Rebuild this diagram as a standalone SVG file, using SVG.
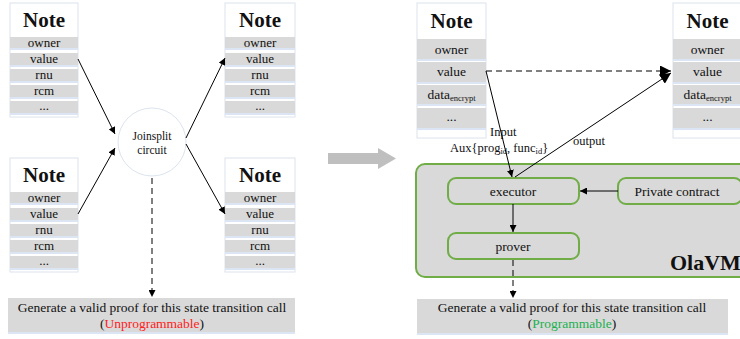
<svg xmlns="http://www.w3.org/2000/svg" width="740" height="339" viewBox="0 0 740 339">
<defs>
<marker id="ah" viewBox="0 0 10 10" refX="10" refY="5" markerWidth="7" markerHeight="7" orient="auto-start-reverse" markerUnits="userSpaceOnUse"><path d="M0,0 L10,5 L0,10 z" fill="#000"/></marker>
<marker id="ah2" viewBox="0 0 10 10" refX="10" refY="5" markerWidth="11" markerHeight="11" orient="auto" markerUnits="userSpaceOnUse"><path d="M0,0 L10,5 L0,10 z" fill="#000"/></marker>
</defs>
<style>
text{font-family:"Liberation Serif","Times New Roman",serif;fill:#111}
.box{fill:#fff;stroke:#dce4ee;stroke-width:1}
.row{fill:#d9d9d9}
.sh{fill:#dbe5f3}
.title{font-weight:bold;font-size:21px;text-anchor:middle}
.f{font-size:13px;text-anchor:middle}
.g{font-size:13.5px;text-anchor:middle}
.ln{stroke:#000;stroke-width:1;fill:none}
.dash{stroke:#000;stroke-width:1;stroke-dasharray:6,4;fill:none}
.grn{fill:#d9d9d9;stroke:#70ad47;stroke-width:2}
.proof{fill:#d9d9d9}
</style>

<g id="note-left-top">
<rect class="box" x="10" y="3" width="68" height="114"/>
<text class="title" x="44" y="27">Note</text>
<rect class="row" x="10" y="37" width="68" height="11"/><rect class="sh" x="10" y="48" width="68" height="2"/>
<rect class="row" x="10" y="53" width="68" height="12"/><rect class="sh" x="10" y="65" width="68" height="2"/>
<rect class="row" x="10" y="69" width="68" height="12"/><rect class="sh" x="10" y="81" width="68" height="2"/>
<rect class="row" x="10" y="85" width="68" height="12"/><rect class="sh" x="10" y="97" width="68" height="2"/>
<rect class="row" x="10" y="101" width="68" height="12"/><rect class="sh" x="10" y="113" width="68" height="2"/>
<text class="f" x="44" y="46.5">owner</text>
<text class="f" x="44" y="62.5">value</text>
<text class="f" x="44" y="78.5">rnu</text>
<text class="f" x="44" y="94.5">rcm</text>
<text class="f" x="44" y="110">...</text>
</g>

<g id="note-left-bottom" transform="translate(0,155)">
<rect class="box" x="10" y="3" width="68" height="114"/>
<text class="title" x="44" y="27">Note</text>
<rect class="row" x="10" y="37" width="68" height="11"/><rect class="sh" x="10" y="48" width="68" height="2"/>
<rect class="row" x="10" y="53" width="68" height="12"/><rect class="sh" x="10" y="65" width="68" height="2"/>
<rect class="row" x="10" y="69" width="68" height="12"/><rect class="sh" x="10" y="81" width="68" height="2"/>
<rect class="row" x="10" y="85" width="68" height="12"/><rect class="sh" x="10" y="97" width="68" height="2"/>
<rect class="row" x="10" y="101" width="68" height="12"/><rect class="sh" x="10" y="113" width="68" height="2"/>
<text class="f" x="44" y="46.5">owner</text>
<text class="f" x="44" y="62.5">value</text>
<text class="f" x="44" y="78.5">rnu</text>
<text class="f" x="44" y="94.5">rcm</text>
<text class="f" x="44" y="110">...</text>
</g>

<g id="note-mid-top" transform="translate(215,0)">
<rect class="box" x="10" y="3" width="70" height="114"/>
<text class="title" x="45" y="27">Note</text>
<rect class="row" x="10" y="37" width="70" height="11"/><rect class="sh" x="10" y="48" width="70" height="2"/>
<rect class="row" x="10" y="53" width="70" height="12"/><rect class="sh" x="10" y="65" width="70" height="2"/>
<rect class="row" x="10" y="69" width="70" height="12"/><rect class="sh" x="10" y="81" width="70" height="2"/>
<rect class="row" x="10" y="85" width="70" height="12"/><rect class="sh" x="10" y="97" width="70" height="2"/>
<rect class="row" x="10" y="101" width="70" height="12"/><rect class="sh" x="10" y="113" width="70" height="2"/>
<text class="f" x="45" y="46.5">owner</text>
<text class="f" x="45" y="62.5">value</text>
<text class="f" x="45" y="78.5">rnu</text>
<text class="f" x="45" y="94.5">rcm</text>
<text class="f" x="45" y="110">...</text>
</g>

<g id="note-mid-bottom" transform="translate(215,155)">
<rect class="box" x="10" y="3" width="70" height="114"/>
<text class="title" x="45" y="27">Note</text>
<rect class="row" x="10" y="37" width="70" height="11"/><rect class="sh" x="10" y="48" width="70" height="2"/>
<rect class="row" x="10" y="53" width="70" height="12"/><rect class="sh" x="10" y="65" width="70" height="2"/>
<rect class="row" x="10" y="69" width="70" height="12"/><rect class="sh" x="10" y="81" width="70" height="2"/>
<rect class="row" x="10" y="85" width="70" height="12"/><rect class="sh" x="10" y="97" width="70" height="2"/>
<rect class="row" x="10" y="101" width="70" height="12"/><rect class="sh" x="10" y="113" width="70" height="2"/>
<text class="f" x="45" y="46.5">owner</text>
<text class="f" x="45" y="62.5">value</text>
<text class="f" x="45" y="78.5">rnu</text>
<text class="f" x="45" y="94.5">rcm</text>
<text class="f" x="45" y="110">...</text>
</g>

<g id="joinsplit">
<circle cx="152" cy="142" r="34" fill="#fff" stroke="#dce4ee" stroke-width="1"/>
<text x="152" y="140" font-size="11.5" text-anchor="middle">Joinsplit</text>
<text x="152" y="154" font-size="11.5" text-anchor="middle">circuit</text>
</g>

<g id="proof-left">
<rect class="sh" x="8" y="299" width="287" height="35"/>
<rect class="proof" x="8" y="298" width="287" height="34"/>
<text x="152" y="312" font-size="13.5" text-anchor="middle">Generate a valid proof for this state transition call</text>
<text x="152" y="328" font-size="13.5" text-anchor="middle">(<tspan fill="#ff2020">Unprogrammable</tspan>)</text>
</g>

<g id="big-arrow">
<path d="M328,153 L378,153 L378,148 L396,158.5 L378,169 L378,164 L328,164 z" fill="#bfbfbf"/>
</g>

<g id="note-right-a">
<rect class="box" x="417" y="3" width="69" height="135"/>
<text class="title" x="451.5" y="28">Note</text>
<rect class="row" x="417" y="39" width="69" height="20"/><rect class="sh" x="417" y="59" width="69" height="2"/>
<rect class="row" x="417" y="62" width="69" height="20"/><rect class="sh" x="417" y="82" width="69" height="2"/>
<rect class="row" x="417" y="85" width="69" height="19"/><rect class="sh" x="417" y="104" width="69" height="2"/>
<rect class="row" x="417" y="108" width="69" height="20"/><rect class="sh" x="417" y="128" width="69" height="2"/>
<text class="g" x="451.5" y="53.5">owner</text>
<text class="g" x="451.5" y="76">value</text>
<text class="g" x="451.5" y="99">data<tspan font-size="8.5" dy="2">encrypt</tspan></text>
<text class="g" x="451.5" y="121">...</text>
</g>

<g id="note-right-b">
<rect class="box" x="673" y="3" width="69" height="135"/>
<text class="title" x="707.5" y="28">Note</text>
<rect class="row" x="673" y="39" width="69" height="20"/><rect class="sh" x="673" y="59" width="69" height="2"/>
<rect class="row" x="673" y="62" width="69" height="20"/><rect class="sh" x="673" y="82" width="69" height="2"/>
<rect class="row" x="673" y="85" width="69" height="19"/><rect class="sh" x="673" y="104" width="69" height="2"/>
<rect class="row" x="673" y="108" width="69" height="20"/><rect class="sh" x="673" y="128" width="69" height="2"/>
<text class="g" x="707.5" y="53.5">owner</text>
<text class="g" x="707.5" y="76">value</text>
<text class="g" x="707.5" y="99">data<tspan font-size="8.5" dy="2">encrypt</tspan></text>
<text class="g" x="707.5" y="121">...</text>
</g>

<g id="olavm">
<rect class="grn" x="416" y="164" width="340" height="113" rx="9"/>
<text x="670" y="270" font-size="22" font-weight="bold" text-anchor="start">OlaVM</text>
</g>

<g id="executor">
<rect class="grn" x="448" y="178" width="131" height="26" rx="8"/>
<text class="g" x="513" y="195.5">executor</text>
</g>

<g id="private-contract">
<rect class="grn" x="618" y="178" width="124" height="26" rx="8"/>
<text class="g" x="677" y="195.5">Private contract</text>
</g>

<g id="prover">
<rect class="grn" x="448" y="233" width="131" height="26" rx="8"/>
<text class="g" x="513" y="250.5">prover</text>
</g>

<g id="proof-right">
<rect class="sh" x="417" y="300" width="311" height="35"/>
<rect class="proof" x="417" y="299" width="311" height="34"/>
<text x="572" y="312" font-size="13.5" text-anchor="middle">Generate a valid proof for this state transition call</text>
<text x="572" y="328" font-size="13.5" text-anchor="middle">(<tspan fill="#20b050">Programmable</tspan>)</text>
</g>

<g id="labels">
<text x="490" y="136" font-size="12.5">Input</text>
<text x="450" y="152" font-size="12.5">Aux{prog<tspan font-size="8.5" dy="2">id</tspan><tspan dy="-2">, func</tspan><tspan font-size="8.5" dy="2">id</tspan><tspan dy="-2">}</tspan></text>
<text x="573" y="145" font-size="12.5">output</text>
</g>

<g id="connectors">
<line class="ln" x1="78" y1="59" x2="115" y2="134" marker-end="url(#ah)"/>
<line class="ln" x1="78" y1="214" x2="115" y2="148" marker-end="url(#ah)"/>
<line class="ln" x1="186" y1="138" x2="225" y2="58" marker-end="url(#ah)"/>
<line class="ln" x1="186" y1="144" x2="225" y2="214" marker-end="url(#ah)"/>
<line class="dash" x1="152" y1="178" x2="152" y2="297" marker-end="url(#ah)"/>
<line class="ln" x1="486" y1="71" x2="512" y2="177" marker-end="url(#ah)"/>
<line class="ln" x1="515" y1="177" x2="671" y2="73" marker-end="url(#ah2)"/>
<line class="dash" x1="486" y1="71" x2="671" y2="71" marker-end="url(#ah2)"/>
<line class="ln" x1="618" y1="191" x2="580" y2="191" marker-end="url(#ah)"/>
<line class="ln" x1="513" y1="204" x2="513" y2="232" marker-end="url(#ah)"/>
<line class="dash" x1="513" y1="260" x2="513" y2="298" marker-end="url(#ah)"/>
</g>
</svg>
